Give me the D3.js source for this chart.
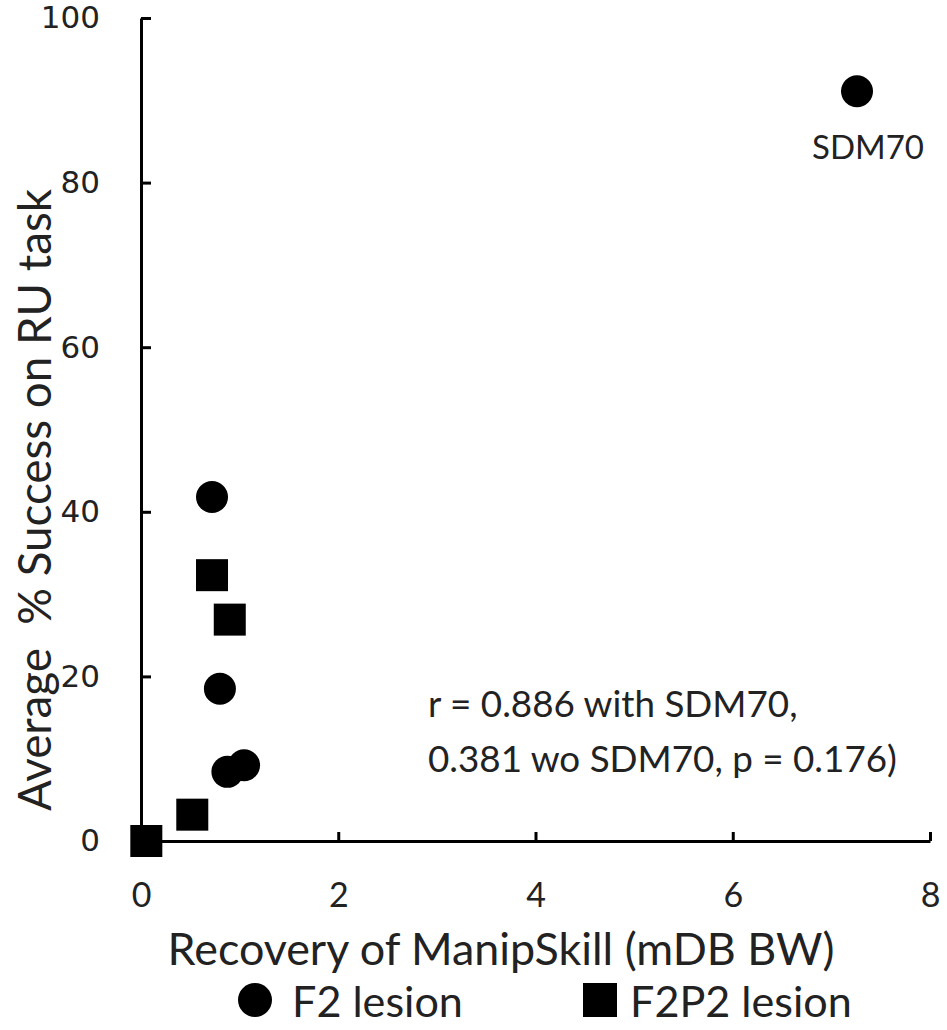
<!DOCTYPE html>
<html>
<head>
<meta charset="utf-8">
<script src="https://cdn.jsdelivr.net/npm/d3@7"></script>
<style>
  html, body { margin: 0; padding: 0; background: #fff; }
  svg { display: block; }
</style>
</head>
<body>
<script>
// ---- data ----
const f2X   = [0.72, 0.80, 0.876, 1.045, 7.26];
const f2Y   = [41.8, 18.5, 8.4, 9.2, 91.1];
const f2p2X = [0.72, 0.90, 0.52, 0.054];
const f2p2Y = [32.3, 26.9, 3.2, 0];
const xTicks = [0, 2, 4, 6, 8];
const yTicks = [0, 20, 40, 60, 80, 100];
const xTitle = "Recovery of ManipSkill (mDB BW)";
const yTitle = "Average  % Success on RU task";
const pointLabel = "SDM70";
const noteLines = ["r = 0.886 with SDM70,", "0.381 wo SDM70, p = 0.176)"];
const legendNames = ["F2 lesion", "F2P2 lesion"];

const W = 947, H = 1030;
const FONT = "Lato, 'Open Sans', sans-serif";

const svg = d3.select("body").append("svg")
  .attr("width", W).attr("height", H)
  .style("background", "#fff");

const x = d3.scaleLinear().domain([0, 8]).range([141, 930]);
const y = d3.scaleLinear().domain([0, 100]).range([841, 18]);

function fit(sel, target) {
  const len = sel.node().getComputedTextLength();
  const fs = parseFloat(sel.attr("font-size"));
  sel.attr("font-size", fs * target / len);
  return fs * target / len;
}

// y axis
const yAxis = svg.append("g")
  .attr("transform", `translate(${x(0)},0)`)
  .call(d3.axisLeft(y).tickValues(yTicks).tickSizeInner(-10).tickSizeOuter(0).tickPadding(41).tickFormat(d3.format("d")));
yAxis.select(".domain").attr("stroke", "#000").attr("stroke-width", 3);
yAxis.selectAll(".tick line").attr("stroke", "#000").attr("stroke-width", 3);
yAxis.selectAll(".tick text")
  .attr("font-family", "'DejaVu Sans', Verdana, sans-serif")
  .attr("font-size", 31).attr("fill", "#222");

// x axis
const xAxis = svg.append("g")
  .attr("transform", `translate(0,${y(0)})`)
  .call(d3.axisBottom(x).tickValues(xTicks).tickSizeInner(-9).tickSizeOuter(0).tickPadding(42).tickFormat(d3.format("d")));
xAxis.select(".domain").attr("stroke", "#000").attr("stroke-width", 3);
xAxis.selectAll(".tick line").attr("stroke", "#000").attr("stroke-width", 3);
xAxis.selectAll(".tick text")
  .attr("font-family", FONT).attr("font-size", 34).attr("fill", "#222");

// points
const f2 = f2X.map((v, i) => ({ x: v, y: f2Y[i] }));
const f2p2 = f2p2X.map((v, i) => ({ x: v, y: f2p2Y[i] }));
const R = 16, S = 32;

svg.append("g").selectAll("rect").data(f2p2).join("rect")
  .attr("x", d => x(d.x) - S / 2).attr("y", d => y(d.y) - S / 2)
  .attr("width", S).attr("height", S).attr("fill", "#000");

svg.append("g").selectAll("circle").data(f2).join("circle")
  .attr("cx", d => x(d.x)).attr("cy", d => y(d.y)).attr("r", R).attr("fill", "#000");

// SDM70 label
const lab = svg.append("text")
  .attr("x", x(7.26) + 11).attr("y", 146)
  .attr("text-anchor", "middle").attr("dominant-baseline", "central")
  .attr("font-family", FONT).attr("font-size", 30).attr("fill", "#222")
  .text(pointLabel);
fit(lab, 112);

// annotation
const n2 = svg.append("text")
  .attr("x", 428).attr("y", 758).attr("dominant-baseline", "central")
  .attr("font-family", FONT).attr("font-size", 30).attr("fill", "#222")
  .text(noteLines[1]);
const nfs = fit(n2, 469);
svg.append("text")
  .attr("x", 428).attr("y", 703).attr("dominant-baseline", "central")
  .attr("font-family", FONT).attr("font-size", nfs).attr("fill", "#222")
  .text(noteLines[0]);

// axis titles
const xt = svg.append("text")
  .attr("x", 501).attr("y", 948)
  .attr("text-anchor", "middle").attr("dominant-baseline", "central")
  .attr("font-family", FONT).attr("font-size", 34).attr("fill", "#222")
  .text(xTitle);
fit(xt, 667);

const yt = svg.append("text")
  .attr("transform", "translate(33,500) rotate(-90)")
  .attr("text-anchor", "middle").attr("dominant-baseline", "central")
  .attr("font-family", FONT).attr("font-size", 34).attr("fill", "#222")
  .attr("xml:space", "preserve").style("white-space", "pre")
  .text(yTitle);
fit(yt, 622);

// legend
const lg = svg.append("g");
lg.append("circle").attr("cx", 255).attr("cy", 1000).attr("r", 17).attr("fill", "#000");
const l1 = lg.append("text").attr("x", 292).attr("y", 1000).attr("dominant-baseline", "central")
  .attr("font-family", FONT).attr("font-size", 32).attr("fill", "#222").text(legendNames[0]);
const lfs = fit(l1, 171);
lg.append("rect").attr("x", 583).attr("y", 983).attr("width", 34).attr("height", 34).attr("fill", "#000");
lg.append("text").attr("x", 630).attr("y", 1000).attr("dominant-baseline", "central")
  .attr("font-family", FONT).attr("font-size", lfs).attr("fill", "#222").text(legendNames[1]);
</script>
</body>
</html>
